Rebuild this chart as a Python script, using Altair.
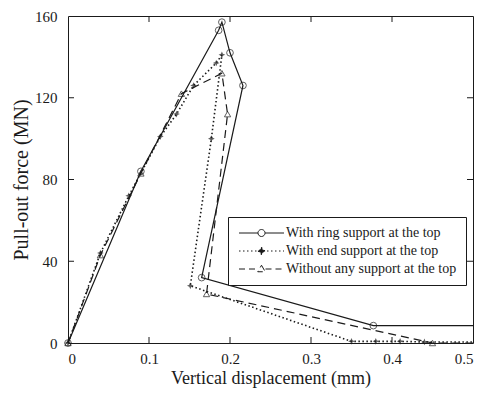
import altair as alt
import pandas as pd

# ---- data ----
ring_x = [0, 0.09, 0.186, 0.19, 0.2, 0.216, 0.165, 0.377, 0.5]
ring_y = [0, 84, 153, 157, 142, 126, 32, 8.5, 8.5]

end_x = [0, 0.04, 0.075, 0.114, 0.134, 0.155, 0.183, 0.19, 0.177, 0.151, 0.35, 0.38, 0.41, 0.44, 0.5]
end_y = [0, 44, 72, 101, 112, 126, 137, 141, 100, 28, 0.8, 0.8, 0.8, 0.5, 0.5]

wo_x = [0, 0.04, 0.09, 0.14, 0.19, 0.197, 0.171, 0.45, 0.5]
wo_y = [0, 43, 83, 122, 132, 112, 24, 0, 0]

series = ["With ring support at the top",
          "With end support at the top",
          "Without any support at the top"]

x_ticks = [0, 0.1, 0.2, 0.3, 0.4, 0.5]
y_ticks = [0, 40, 80, 120, 160]

W, H = 405, 327
INK = "#1a1a1a"
FONT = "Liberation Serif"


def frame(xs, ys, name):
    return pd.DataFrame({"x": xs, "y": ys, "series": name, "i": range(len(xs))})


df = pd.concat([frame(ring_x, ring_y, series[0]),
                frame(end_x, end_y, series[1]),
                frame(wo_x, wo_y, series[2])], ignore_index=True)

xs = alt.Scale(domain=[0, 0.5], nice=False)
ys = alt.Scale(domain=[0, 160], nice=False)

xaxis = alt.Axis(values=x_ticks, labelExpr="datum.value == 0 ? '0' : format(datum.value, '.1f')",
                 title="Vertical displacement (mm)", grid=False, domain=False, ticks=False,
                 labelPadding=8, titlePadding=3, labelFontSize=15, titleFontSize=18)
yaxis = alt.Axis(values=y_ticks, title="Pull-out force (MN)", grid=False, domain=False, ticks=False,
                 labelPadding=11, titlePadding=3, labelFontSize=15, titleFontSize=20)

base = alt.Chart(df)

line_styles = {series[0]: dict(),
               series[1]: dict(strokeDash=[1.5, 2.5], strokeWidth=1.6),
               series[2]: dict(strokeDash=[8, 5])}
layers = []
for s in series:
    st = dict(color=INK, strokeWidth=1.2)
    st.update(line_styles[s])
    layers.append(
        base.transform_filter(alt.datum.series == s).mark_line(**st).encode(
            x=alt.X("x:Q", scale=xs, axis=xaxis),
            y=alt.Y("y:Q", scale=ys, axis=yaxis),
            order="i:Q")
    )

star = "M0,-1L0.3,-0.3L1,0L0.3,0.3L0,1L-0.3,0.3L-1,0L-0.3,-0.3Z"
pt_styles = {series[0]: dict(shape="circle", filled=False, size=45, strokeWidth=1),
             series[1]: dict(shape=star, filled=True, size=45),
             series[2]: dict(shape="triangle-up", filled=False, size=40, strokeWidth=1)}
for s in series:
    layers.append(
        base.transform_filter((alt.datum.series == s) & (alt.datum.x < 0.5)).mark_point(
            color=INK, **pt_styles[s]).encode(x="x:Q", y="y:Q")
    )

# inward ticks on all four sides
xt = pd.DataFrame({"v": x_ticks[1:-1]})
yt = pd.DataFrame({"v": y_ticks[1:-1]})
tk = dict(color=INK, strokeWidth=1)
layers += [
    alt.Chart(xt).mark_rule(**tk).encode(x="v:Q", y=alt.value(H), y2=alt.value(H - 6)),
    alt.Chart(xt).mark_rule(**tk).encode(x="v:Q", y=alt.value(0), y2=alt.value(6)),
    alt.Chart(yt).mark_rule(**tk).encode(y="v:Q", x=alt.value(0), x2=alt.value(6)),
    alt.Chart(yt).mark_rule(**tk).encode(y="v:Q", x=alt.value(W), x2=alt.value(W - 6)),
]

# legend-only layer (symbols: line + marker)
leg_paths = [
    "M-1,0H2.8M4.2,0H8M2.8,0A0.7,0.7 0 1,0 4.2,0A0.7,0.7 0 1,0 2.8,0",
    "M-1,0H8M3.5,-0.8L3.75,-0.25L4.3,0L3.75,0.25L3.5,0.8L3.25,0.25L2.7,0L3.25,-0.25Z",
    "M-1,0H2.7M4.3,0H8M3.5,-0.75L4.25,0.55L2.75,0.55Z",
]
legend = alt.Legend(title=None, orient="none", legendX=160, legendY=201,
                    symbolStrokeColor=INK, symbolStrokeWidth=1)
layers.append(
    base.transform_filter(alt.datum.x < 0).mark_point(size=100, strokeWidth=1, opacity=1).encode(
        x="x:Q", y="y:Q",
        shape=alt.Shape("series:N", scale=alt.Scale(domain=series, range=leg_paths), legend=legend),
        fill=alt.Fill("series:N", scale=alt.Scale(domain=series, range=["transparent", INK, "transparent"]), legend=legend),
        stroke=alt.Stroke("series:N", scale=alt.Scale(domain=series, range=[INK, INK, INK]), legend=legend),
        strokeDash=alt.StrokeDash("series:N", scale=alt.Scale(domain=series, range=[[1, 0], [1.5, 2.5], [6, 4]]), legend=legend),
    )
)

chart = alt.layer(*layers).properties(
    width=W, height=H,
    autosize=alt.AutoSizeParams(type="none"),
    padding={"left": 60, "top": 8, "right": 11, "bottom": 49},
).configure_view(stroke=INK, strokeWidth=1).configure_axis(
    labelFont=FONT, titleFont=FONT, labelColor=INK, titleColor=INK, titleFontWeight="normal"
).configure_legend(
    labelFont=FONT, labelFontSize=14, labelColor=INK, labelLimit=0, strokeColor=INK, fillColor="white",
    padding=9, symbolSize=100, symbolStrokeWidth=1, symbolStrokeColor=INK, labelOffset=35, rowPadding=4
)

chart.save("out.html", embed_options={"renderer": "svg", "actions": False})
